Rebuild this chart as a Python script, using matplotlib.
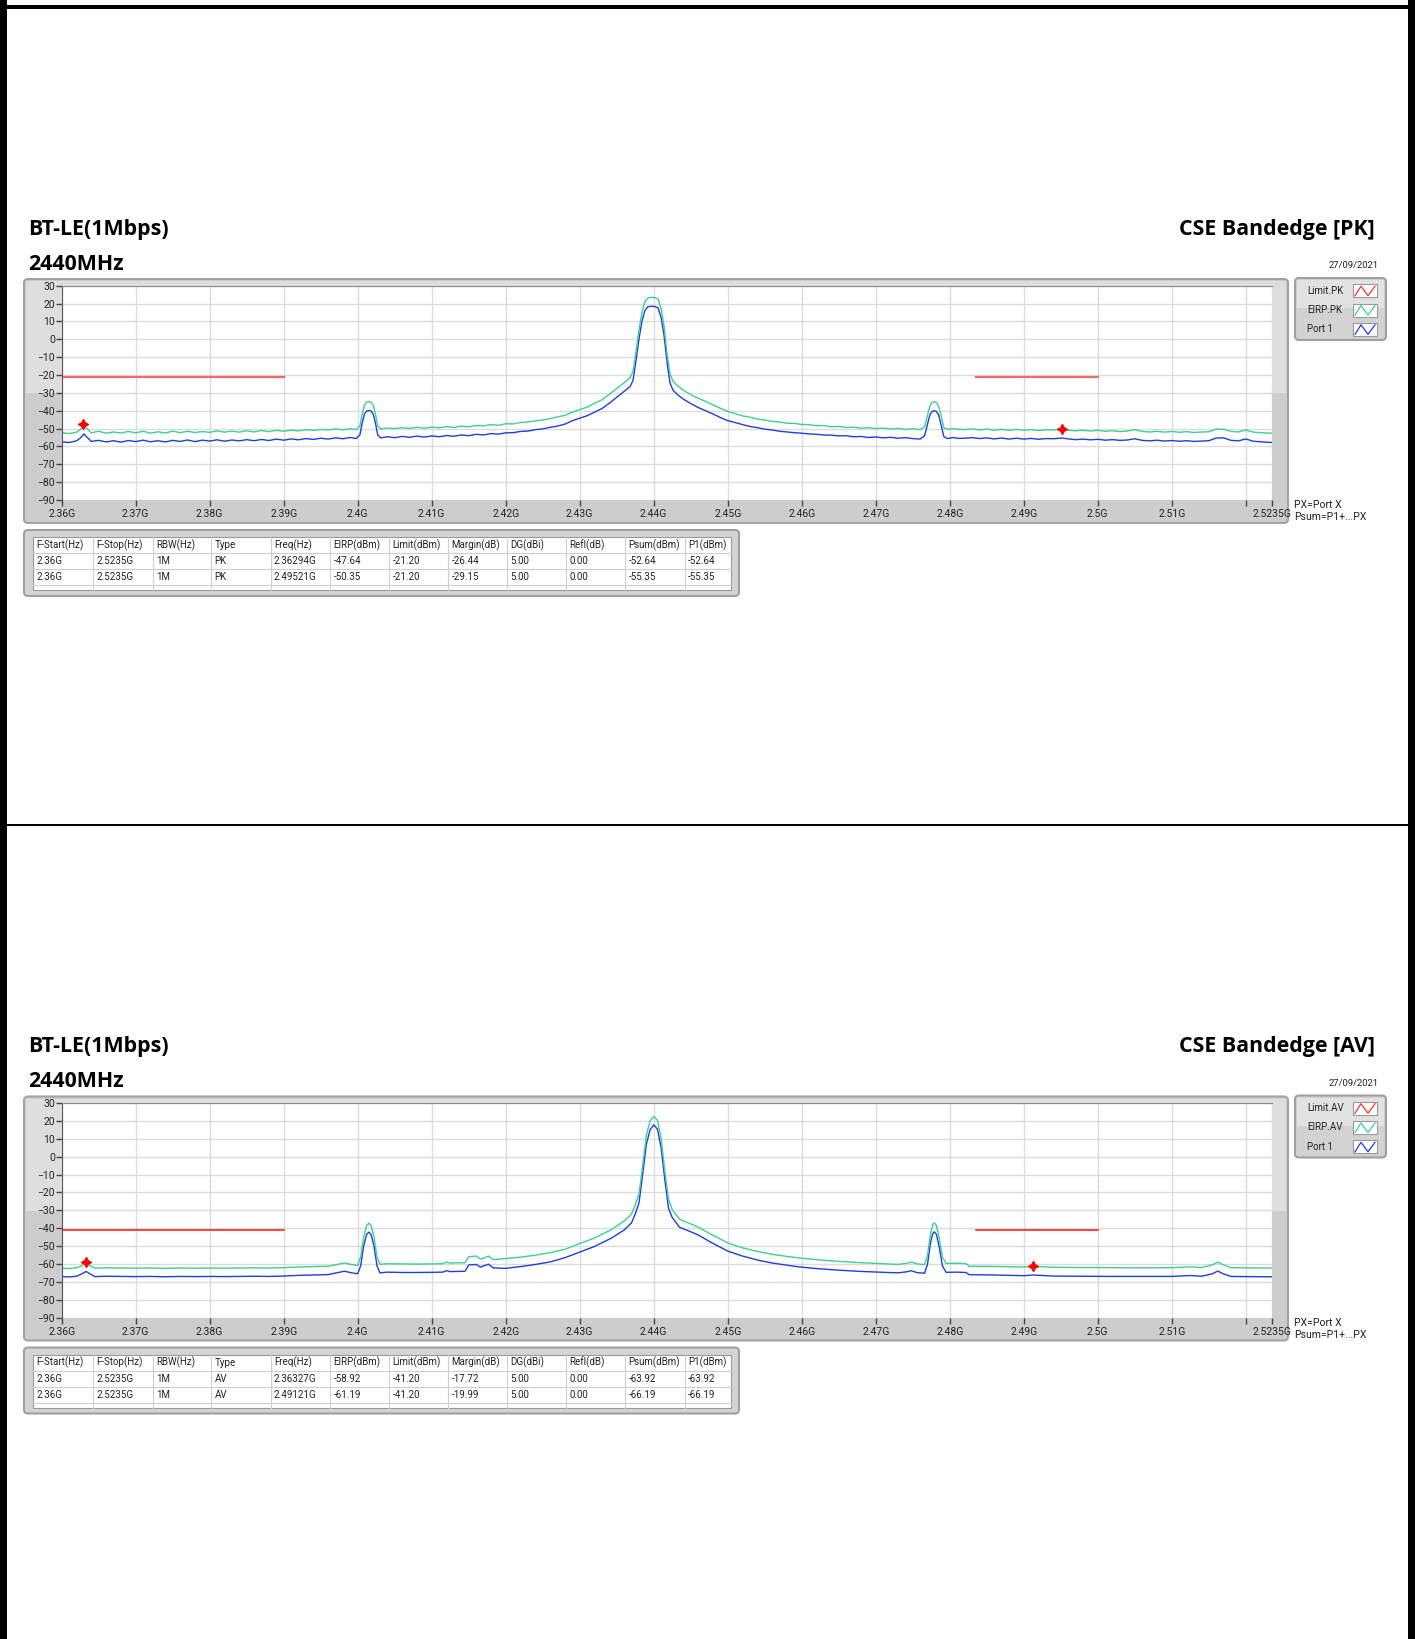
import matplotlib
matplotlib.use("Agg")
import matplotlib.pyplot as plt
from matplotlib.patches import Rectangle, FancyBboxPatch

plt.rcParams['font.family'] = ['Roboto', 'DejaVu Sans']

# ---------------- data ----------------
# Peak detector sweep (frequency in GHz, level in dBm)
pk_freq = [2.3600, 2.3610, 2.3620, 2.3626, 2.3630, 2.3634, 2.3640, 2.3650, 2.3660, 2.3670,
           2.3680, 2.3690, 2.3700, 2.3710, 2.3720, 2.3730, 2.3740, 2.3750, 2.3760, 2.3770,
           2.3780, 2.3790, 2.3800, 2.3810, 2.3820, 2.3830, 2.3840, 2.3850, 2.3860, 2.3870,
           2.3880, 2.3890, 2.3900, 2.3910, 2.3920, 2.3930, 2.3940, 2.3950, 2.3960, 2.3970,
           2.3980, 2.3990, 2.3998, 2.4003, 2.4006, 2.4009, 2.4012, 2.4015, 2.4018, 2.4021,
           2.4024, 2.4027, 2.4031, 2.4040, 2.4050, 2.4060, 2.4070, 2.4080, 2.4090, 2.4100,
           2.4110, 2.4120, 2.4130, 2.4140, 2.4150, 2.4160, 2.4170, 2.4180, 2.4190, 2.4200,
           2.4210, 2.4220, 2.4230, 2.4240, 2.4250, 2.4260, 2.4270, 2.4280, 2.4290, 2.4300,
           2.4310, 2.4320, 2.4330, 2.4340, 2.4350, 2.4357, 2.4363, 2.4368, 2.4372, 2.4376,
           2.4380, 2.4384, 2.4388, 2.4392, 2.4397, 2.4402, 2.4406, 2.4410, 2.4414, 2.4418,
           2.4422, 2.4426, 2.4432, 2.4440, 2.4450, 2.4460, 2.4470, 2.4480, 2.4490, 2.4500,
           2.4510, 2.4520, 2.4530, 2.4540, 2.4550, 2.4560, 2.4570, 2.4580, 2.4590, 2.4600,
           2.4610, 2.4620, 2.4630, 2.4640, 2.4650, 2.4660, 2.4670, 2.4680, 2.4690, 2.4700,
           2.4710, 2.4720, 2.4730, 2.4740, 2.4750, 2.4760, 2.4766, 2.4770, 2.4773, 2.4776,
           2.4779, 2.4782, 2.4785, 2.4788, 2.4792, 2.4797, 2.4805, 2.4810, 2.4820, 2.4830,
           2.4840, 2.4850, 2.4860, 2.4870, 2.4880, 2.4890, 2.4900, 2.4910, 2.4920, 2.4930,
           2.4940, 2.4952, 2.4960, 2.4970, 2.4980, 2.4990, 2.5000, 2.5010, 2.5020, 2.5030,
           2.5040, 2.5050, 2.5060, 2.5070, 2.5080, 2.5090, 2.5100, 2.5110, 2.5120, 2.5130,
           2.5140, 2.5150, 2.5160, 2.5170, 2.5180, 2.5190, 2.5200, 2.5210, 2.5220, 2.5235]
pk_port1 = [-57.4, -57.8, -56.9, -55.0, -53.0, -54.8, -57.2, -56.6, -57.5, -56.8,
            -57.6, -56.7, -57.3, -56.5, -57.4, -56.8, -57.5, -56.6, -57.2, -56.4,
            -57.3, -56.5, -57.0, -56.3, -57.1, -56.4, -56.9, -56.2, -56.8, -56.1,
            -56.7, -55.9, -56.5, -55.8, -56.3, -55.6, -56.1, -55.4, -55.9, -55.2,
            -55.7, -55.0, -55.6, -53.5, -47.0, -42.0, -40.2, -39.9, -40.2, -42.0,
            -47.0, -53.5, -55.2, -54.6, -55.1, -54.4, -54.9, -54.2, -54.8, -54.1,
            -54.6, -53.9, -54.3, -53.6, -54.0, -53.2, -53.6, -52.8, -53.1, -52.4,
            -52.3, -51.6, -51.4, -50.6, -50.2, -49.3, -48.6, -47.5, -45.6, -44.2,
            -42.8, -40.8, -38.8, -35.8, -32.5, -30.2, -28.2, -26.5, -23.0, -12.0,
            0.0, 10.0, 16.0, 18.2, 18.5, 18.3, 17.5, 12.0, 2.0, -13.0,
            -24.5, -28.5, -31.0, -33.5, -36.0, -38.2, -40.0, -41.8, -43.8, -45.6,
            -46.6, -47.8, -48.8, -49.5, -50.3, -50.8, -51.5, -51.9, -52.3, -52.6,
            -53.0, -53.2, -53.6, -53.7, -54.1, -54.0, -54.6, -54.4, -55.0, -54.7,
            -55.2, -54.9, -55.4, -55.1, -55.6, -55.9, -54.0, -47.5, -42.5, -40.5,
            -40.0, -40.4, -42.5, -47.5, -54.5, -55.6, -55.0, -55.5, -55.4, -55.1,
            -55.6, -55.2, -55.8, -55.3, -55.9, -55.4, -55.9, -55.5, -56.0, -55.6,
            -55.7, -55.3, -55.8, -56.2, -55.9, -56.3, -56.0, -56.5, -56.2, -56.6,
            -56.4, -55.7, -56.6, -56.9, -56.5, -57.0, -56.7, -57.1, -56.8, -57.2,
            -57.0, -56.8, -55.3, -55.2, -56.6, -56.9, -55.8, -57.1, -57.4, -57.8]
pk_eirp = [-52.3, -52.8, -52.1, -50.2, -48.0, -50.0, -52.4, -51.5, -52.6, -51.9,
           -52.5, -51.6, -52.4, -51.5, -52.6, -51.8, -52.5, -51.4, -52.3, -51.5,
           -52.2, -51.7, -52.1, -51.3, -52.0, -51.4, -52.0, -51.2, -51.9, -51.1,
           -51.7, -51.0, -51.5, -50.9, -51.3, -50.6, -51.0, -50.5, -50.8, -50.2,
           -50.7, -50.1, -50.6, -48.5, -42.0, -37.0, -35.2, -34.9, -35.2, -37.0,
           -42.0, -48.5, -50.2, -49.7, -50.0, -49.5, -49.9, -49.3, -49.8, -49.2,
           -49.6, -48.9, -49.4, -48.6, -49.0, -48.3, -48.5, -47.8, -48.2, -47.3,
           -47.4, -46.6, -46.3, -45.7, -45.2, -44.4, -43.5, -42.6, -40.8, -39.4,
           -38.0, -35.8, -33.9, -30.8, -27.6, -25.3, -23.3, -21.5, -18.0, -7.0,
           5.0, 15.0, 21.0, 23.2, 23.5, 23.3, 22.5, 17.0, 7.0, -8.0,
           -19.5, -23.5, -26.0, -28.5, -31.0, -33.0, -34.8, -36.8, -38.6, -40.4,
           -41.6, -42.9, -43.6, -44.7, -45.2, -46.0, -46.3, -47.0, -47.1, -47.7,
           -47.8, -48.4, -48.3, -49.0, -48.8, -49.4, -49.2, -49.8, -49.5, -50.0,
           -49.7, -50.3, -49.9, -50.5, -50.1, -50.6, -49.0, -42.5, -37.5, -35.5,
           -35.0, -35.4, -37.5, -42.5, -49.5, -50.4, -50.0, -50.3, -50.6, -50.2,
           -50.8, -50.3, -50.9, -50.4, -51.0, -50.5, -50.9, -50.6, -51.1, -50.7,
           -50.8, -50.2, -50.9, -51.3, -50.9, -51.4, -51.0, -51.5, -51.2, -51.7,
           -51.4, -50.6, -51.6, -51.9, -51.5, -52.0, -51.6, -52.1, -51.7, -52.2,
           -51.9, -51.8, -50.3, -50.4, -51.6, -51.9, -50.8, -52.0, -52.3, -52.6]

# Average detector sweep
av_freq = [2.3600, 2.3610, 2.3620, 2.3627, 2.3633, 2.3639, 2.3645, 2.3660, 2.3680, 2.3700,
           2.3720, 2.3740, 2.3760, 2.3780, 2.3800, 2.3820, 2.3840, 2.3860, 2.3880, 2.3900,
           2.3920, 2.3940, 2.3960, 2.3970, 2.3982, 2.3992, 2.4000, 2.4004, 2.4008, 2.4012,
           2.4015, 2.4018, 2.4022, 2.4026, 2.4030, 2.4040, 2.4060, 2.4080, 2.4100, 2.4115,
           2.4120, 2.4125, 2.4145, 2.4150, 2.4160, 2.4166, 2.4172, 2.4177, 2.4183, 2.4200,
           2.4220, 2.4240, 2.4260, 2.4280, 2.4300, 2.4320, 2.4343, 2.4360, 2.4370, 2.4375,
           2.4380, 2.4385, 2.4390, 2.4395, 2.4400, 2.4405, 2.4410, 2.4415, 2.4420, 2.4425,
           2.4435, 2.4450, 2.4460, 2.4480, 2.4500, 2.4520, 2.4540, 2.4560, 2.4580, 2.4595,
           2.4620, 2.4650, 2.4680, 2.4710, 2.4730, 2.4742, 2.4748, 2.4756, 2.4766, 2.4770,
           2.4774, 2.4777, 2.4779, 2.4782, 2.4786, 2.4790, 2.4795, 2.4810, 2.4822, 2.4826,
           2.4860, 2.4900, 2.4912, 2.4940, 2.4980, 2.5020, 2.5060, 2.5100, 2.5125, 2.5140,
           2.5155, 2.5162, 2.5170, 2.5180, 2.5200, 2.5235]
av_eirp = [-62.3, -62.6, -62.2, -61.0, -59.6, -61.2, -62.4, -62.2, -62.3, -62.4,
           -62.3, -62.5, -62.3, -62.4, -62.3, -62.4, -62.3, -62.2, -62.3, -62.1,
           -61.7, -61.5, -61.3, -60.5, -59.4, -60.4, -60.8, -56.0, -45.0, -38.5,
           -37.2, -38.5, -45.0, -56.0, -60.2, -59.9, -60.0, -60.1, -60.0, -59.9,
           -59.0, -59.5, -59.3, -56.0, -55.6, -57.3, -56.5, -55.6, -57.6, -57.0,
           -56.2, -55.1, -53.7, -51.8, -48.6, -45.5, -40.7, -36.0, -32.0, -27.0,
           -21.0, -5.0, 12.0, 20.0, 22.5, 20.5, 10.0, -8.0, -24.0, -29.5,
           -35.0, -37.6, -39.4, -44.0, -48.2, -51.0, -53.0, -54.6, -55.8, -56.6,
           -57.6, -58.6, -59.3, -59.9, -60.3, -59.6, -59.0, -60.0, -60.4, -55.0,
           -43.0, -38.0, -37.0, -38.5, -46.0, -56.0, -59.7, -59.6, -59.8, -61.3,
           -61.4, -61.7, -61.3, -61.9, -62.0, -62.1, -62.2, -62.1, -61.6, -62.0,
           -60.5, -59.0, -60.6, -62.1, -62.2, -62.3]
av_port1 = [-67.0, -67.3, -66.9, -65.6, -64.2, -65.8, -67.1, -66.9, -67.0, -67.1,
            -67.0, -67.2, -67.0, -67.1, -67.0, -67.1, -67.0, -66.9, -67.0, -66.8,
            -66.4, -66.2, -66.0, -65.1, -64.1, -65.0, -65.5, -61.0, -50.0, -43.5,
            -42.2, -43.5, -50.0, -61.0, -65.0, -64.6, -64.8, -64.8, -64.7, -64.6,
            -63.8, -64.3, -64.1, -60.6, -60.3, -61.8, -60.8, -60.2, -62.2, -62.5,
            -61.5, -60.3, -58.9, -56.5, -53.4, -50.2, -45.5, -41.0, -37.0, -32.0,
            -26.0, -10.0, 7.0, 15.0, 17.9, 15.5, 5.0, -13.0, -29.0, -34.0,
            -39.5, -42.0, -43.8, -48.5, -52.8, -55.6, -57.8, -59.5, -60.7, -61.6,
            -62.6, -63.5, -64.2, -64.7, -65.0, -64.4, -63.8, -64.9, -65.2, -60.0,
            -48.0, -43.0, -42.0, -43.5, -51.0, -61.0, -64.7, -64.6, -64.8, -66.0,
            -66.2, -66.6, -66.2, -66.8, -66.9, -67.0, -67.0, -67.0, -66.5, -66.9,
            -65.5, -64.0, -65.6, -67.0, -67.1, -67.2]

# limit segments (start, stop) GHz and levels
limit_start = [2.36, 2.4835]
limit_stop = [2.39, 2.5]
pk_limit = -21.2
av_limit = -41.2

# worst-case markers (frequency, EIRP)
pk_mark_freq = [2.36294, 2.49521]
pk_mark_eirp = [-47.64, -50.35]
av_mark_freq = [2.36327, 2.49121]
av_mark_eirp = [-58.92, -61.19]

x_ticks = [2.36, 2.37, 2.38, 2.39, 2.40, 2.41, 2.42, 2.43, 2.44, 2.45, 2.46,
           2.47, 2.48, 2.49, 2.50, 2.51, 2.52, 2.5235]
x_tick_labels = ['2.36G', '2.37G', '2.38G', '2.39G', '2.4G', '2.41G', '2.42G', '2.43G',
                 '2.44G', '2.45G', '2.46G', '2.47G', '2.48G', '2.49G', '2.5G', '2.51G',
                 '', '2.5235G']
y_ticks = [-90, -80, -70, -60, -50, -40, -30, -20, -10, 0, 10, 20, 30]

table_header = ['F-Start(Hz)', 'F-Stop(Hz)', 'RBW(Hz)', 'Type', 'Freq(Hz)', 'EIRP(dBm)',
                'Limit(dBm)', 'Margin(dB)', 'DG(dBi)', 'Refl(dB)', 'Psum(dBm)', 'P1(dBm)']
pk_rows = [['2.36G', '2.5235G', '1M', 'PK', '2.36294G', '-47.64', '-21.20', '-26.44',
            '5.00', '0.00', '-52.64', '-52.64'],
           ['2.36G', '2.5235G', '1M', 'PK', '2.49521G', '-50.35', '-21.20', '-29.15',
            '5.00', '0.00', '-55.35', '-55.35']]
av_rows = [['2.36G', '2.5235G', '1M', 'AV', '2.36327G', '-58.92', '-41.20', '-17.72',
            '5.00', '0.00', '-63.92', '-63.92'],
           ['2.36G', '2.5235G', '1M', 'AV', '2.49121G', '-61.19', '-41.20', '-19.99',
            '5.00', '0.00', '-66.19', '-66.19']]

GREEN = '#3ecf95'
BLUE = '#1f3ede'

# ---------------- figure in pixel units ----------------
W, H = 1415, 1639
fig = plt.figure(figsize=(W / 100, H / 100), dpi=100)
bg = fig.add_axes([0, 0, 1, 1])
bg.set_xlim(0, W)
bg.set_ylim(H, 0)
bg.axis('off')

TITLE_FONT = ['Open Sans', 'DejaVu Sans']
col_edges = [33, 93, 152.5, 211, 270.5, 330, 389, 448, 507, 566, 625, 684.5, 730.5]


def rect(x0, y0, x1, y1, **kw):
    bg.add_patch(Rectangle((x0, y0), x1 - x0, y1 - y0, **kw))


def rbox(x0, y0, x1, y1, **kw):
    bg.add_patch(FancyBboxPatch((x0, y0), x1 - x0, y1 - y0,
                                boxstyle='round,pad=0,rounding_size=4', **kw))


def panel(off, tag, freq, eirp, port1, limit, mk_f, mk_e, rows, lim_color, lim_lw):
    # titles
    bg.text(28, 229 + off, 'BT-LE(1Mbps)', fontsize=15.4, fontweight='bold',
            family=TITLE_FONT, va='center', ha='left')
    bg.text(28, 264 + off, '2440MHz', fontsize=15.4, fontweight='bold',
            family=TITLE_FONT, va='center', ha='left')
    bg.text(1375, 229 + off, 'CSE Bandedge [%s]' % tag, fontsize=15.4, fontweight='bold',
            family=TITLE_FONT, va='center', ha='right')
    bg.text(1379, 266 + off, '27/09/2021', fontsize=6.8, va='center', ha='right', color='#222')

    # graph frame
    rbox(24, 279 + off, 1288, 523 + off, fc='#cdcdcd', ec='#a3a3a3', lw=1.5)
    rect(26, 281 + off, 1286, 393 + off, fc='#dedede', ec='none')

    ax = fig.add_axes([61.7 / W, 1 - (500 + off) / H, 1210 / W, 214.3 / H])
    ax.set_facecolor('white')
    ax.plot(freq, port1, color=BLUE, lw=1)
    ax.plot(freq, eirp, color=GREEN, lw=1)
    for s, e in zip(limit_start, limit_stop):
        ax.plot([s, e], [limit, limit], color=lim_color, lw=lim_lw)
    ax.plot(mk_f, mk_e, ls='none', marker=(4, 1, 0), ms=7.5, color='red', mew=0.8)
    ax.set_xlim(2.36, 2.5235)
    ax.set_ylim(-90, 30)
    ax.set_xticks(x_ticks)
    ax.set_xticklabels(x_tick_labels)
    ax.set_yticks(y_ticks)
    ax.grid(True, color='#dddddd', lw=1)
    ax.set_axisbelow(True)
    ax.tick_params(labelsize=7.5, colors='#444', labelcolor='#222', length=4, width=1, pad=1)
    ax.tick_params(axis='x', pad=2.5)
    for side in ['right', 'bottom']:
        ax.spines[side].set_visible(False)
    ax.spines['left'].set_color('#555')
    ax.spines['top'].set_color('#8a8a8a')

    bg.text(1294, 505 + off, 'PX=Port X', fontsize=7.5, va='center', ha='left', color='#222')
    bg.text(1294, 517 + off, 'Psum=P1+...PX', fontsize=7.5, va='center', ha='left', color='#222')

    # legend box
    rbox(1295, 278 + off, 1386, 340 + off, fc='#d2d2d2', ec='#a0a0a0', lw=1.5)
    rect(1297, 280 + off, 1384, 308 + off, fc='#e2e2e2', ec='none')
    names = ['Limit.%s' % tag, 'EIRP.%s' % tag, 'Port 1']
    for i, (name, c) in enumerate(zip(names, ['#ff3030', GREEN, BLUE])):
        y = 290.7 + i * 19.3 + off
        bg.text(1307, y, name, fontsize=7, va='center', ha='left', color='#222')
        rect(1353, y - 6.5, 1377, y + 6.5, fc='white', ec='#9a9a9a', lw=0.8)
        bg.plot([1355, 1361, 1368, 1375], [y + 5, y - 4.5, y + 5, y - 4.5], color=c, lw=0.9)

    # result table
    rbox(24, 530 + off, 739, 596 + off, fc='#d4d4d4', ec='#a0a0a0', lw=1.5)
    rect(col_edges[0], 537 + off, col_edges[-1], 590 + off, fc='white', ec='#9a9a9a', lw=0.8)
    row_y = [537, 553, 569, 585, 590]
    for y in row_y[1:-1]:
        bg.plot([col_edges[0], col_edges[-1]], [y + off, y + off], color='#cfcfcf', lw=0.8)
    for x in col_edges[1:-1]:
        bg.plot([x, x], [537 + off, 590 + off], color='#cfcfcf', lw=0.8)
    for j, h in enumerate(table_header):
        bg.text(col_edges[j] + 3.5, 545 + off, h, fontsize=7, va='center', ha='left', color='#222')
    for r, row in enumerate(rows):
        for j, v in enumerate(row):
            bg.text(col_edges[j] + 3.5, 561 + r * 16 + off, v, fontsize=7,
                    va='center', ha='left', color='#222')


panel(0, 'PK', pk_freq, pk_eirp, pk_port1, pk_limit, pk_mark_freq, pk_mark_eirp,
      pk_rows, '#f26b6b', 1.6)
panel(817.5, 'AV', av_freq, av_eirp, av_port1, av_limit, av_mark_freq, av_mark_eirp,
      av_rows, '#ff1010', 1.1)

# outer black frame and divider
rect(0, 0, 7, H, fc='black', ec='none')
rect(1408, 0, W, H, fc='black', ec='none')
rect(0, 5, W, 9, fc='black', ec='none')
rect(0, 823.5, W, 826, fc='black', ec='none')

fig.savefig('out.png', dpi=100)
